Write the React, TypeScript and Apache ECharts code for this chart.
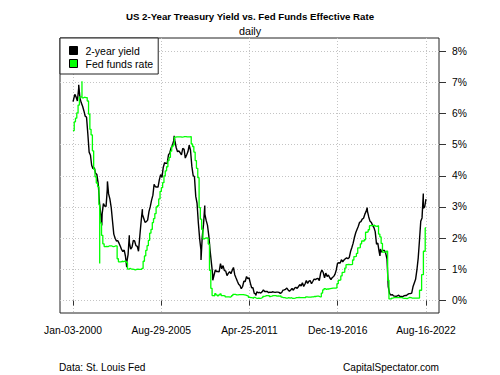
import React, { useEffect, useRef } from "react";
import * as echarts from "echarts";

const TITLE = "US 2-Year Treasury Yield vs. Fed Funds Effective Rate";
const SUBTITLE = "daily";
const SOURCE = "Data: St. Louis Fed";
const SITE = "CapitalSpectator.com";
const YIELD_NAME = "2-year yield";
const FED_NAME = "Fed funds rate";

// x-axis tick dates (labels) and y-axis tick values (percent)
const X_TICKS = ["2000-01-03", "2005-08-29", "2011-04-25", "2016-12-19", "2022-08-16"];
const Y_TICKS = [0, 1, 2, 3, 4, 5, 6, 7, 8];

// 2-year Treasury yield, monthly readings (mid-month), %
const YIELD_2000S = [
  6.44, 6.61, 6.53, 6.40, 6.81, 6.48, 6.34, 6.23, 6.08, 5.91, 5.88, 5.35,
  4.76, 4.66, 4.34, 4.23, 4.26, 4.08, 4.04, 3.76, 3.12, 2.73, 2.78, 3.11,
  3.03, 3.02, 3.56, 3.42, 3.26, 2.99, 2.56, 2.13, 2.00, 1.91, 1.92, 1.84,
  1.74, 1.63, 1.57, 1.62, 1.42, 1.23, 1.47, 1.86, 1.65, 1.71, 1.93, 1.91,
  1.76, 1.74, 1.58, 2.07, 2.53, 2.76, 2.64, 2.51, 2.53, 2.58, 2.85, 3.01,
  3.22, 3.38, 3.73, 3.65, 3.64, 3.64, 3.87, 4.04, 3.95, 4.27, 4.42, 4.40,
  4.40, 4.67, 4.73, 4.89, 4.97, 5.12, 5.12, 4.90, 4.77, 4.80, 4.74, 4.67,
  4.88, 4.85, 4.57, 4.67, 4.77, 4.98, 4.82, 4.31, 4.01, 3.97, 3.34, 3.12,
  2.48, 1.97, 1.62, 2.05, 2.45, 2.77, 2.57, 2.42, 2.08, 1.61, 1.21, 0.82,
  0.81, 0.98, 0.93, 0.93, 0.92, 1.18, 1.02, 1.12, 0.96, 0.95, 0.80, 0.87,
];
const YIELD_2010S = [
  0.93, 0.86, 0.96, 1.06, 0.83, 0.72, 0.62, 0.52, 0.48, 0.38, 0.45, 0.62,
  0.61, 0.77, 0.70, 0.73, 0.56, 0.41, 0.41, 0.23, 0.21, 0.28, 0.25, 0.26,
  0.24, 0.28, 0.34, 0.29, 0.29, 0.29, 0.25, 0.27, 0.26, 0.28, 0.27, 0.26,
  0.27, 0.27, 0.26, 0.23, 0.25, 0.33, 0.34, 0.36, 0.40, 0.34, 0.30, 0.34,
  0.39, 0.33, 0.40, 0.42, 0.39, 0.45, 0.51, 0.47, 0.57, 0.45, 0.53, 0.64,
  0.55, 0.62, 0.64, 0.54, 0.61, 0.69, 0.67, 0.70, 0.71, 0.64, 0.88, 0.98,
  0.90, 0.73, 0.88, 0.77, 0.82, 0.73, 0.67, 0.74, 0.77, 0.84, 0.98, 1.20,
  1.21, 1.20, 1.31, 1.24, 1.30, 1.34, 1.37, 1.34, 1.38, 1.57, 1.70, 1.84,
  2.03, 2.18, 2.28, 2.38, 2.51, 2.53, 2.61, 2.64, 2.77, 2.86, 2.86, 2.68,
  2.54, 2.50, 2.41, 2.34, 2.21, 1.81, 1.84, 1.57, 1.65, 1.55, 1.61, 1.61,
];
const YIELD_2020S = [
  1.52, 1.33, 0.45, 0.23, 0.17, 0.19, 0.15, 0.14, 0.13, 0.15, 0.17, 0.13,
  0.13, 0.12, 0.15, 0.16, 0.16, 0.20, 0.22, 0.22, 0.24, 0.44, 0.56, 0.68,
  0.98, 1.37, 1.91, 2.54, 2.65, 2.96, 3.00,
];
// daily highs / lows visible in the picture, plus first and last readings
const YIELD_EXTREMES: [string, number][] = [
  ["2000-01-03", 6.38], ["2000-05-16", 6.92], ["2001-11-07", 2.41], ["2002-03-19", 3.82],
  ["2003-06-13", 1.07], ["2003-08-13", 2.09], ["2004-06-14", 2.93], ["2006-06-28", 5.28],
  ["2008-03-17", 1.30], ["2008-06-13", 3.05], ["2008-12-17", 0.65], ["2011-09-19", 0.16],
  ["2018-11-08", 2.98], ["2019-09-03", 1.43], ["2022-06-14", 3.43], ["2022-08-16", 3.25],
];

// Fed funds effective rate, monthly levels (start of month), %
const FED_2000S = [
  5.45, 5.73, 5.85, 6.02, 6.27, 6.53, 6.54, 6.50, 6.52, 6.51, 6.51, 6.40,
  5.98, 5.49, 5.31, 4.80, 4.21, 3.97, 3.77, 3.65, 3.07, 2.49, 2.09, 1.82,
  1.73, 1.74, 1.73, 1.75, 1.75, 1.75, 1.73, 1.74, 1.75, 1.75, 1.34, 1.24,
  1.24, 1.26, 1.25, 1.26, 1.26, 1.22, 1.01, 1.03, 1.01, 1.01, 1.00, 0.98,
  1.00, 1.01, 1.00, 1.00, 1.00, 1.03, 1.26, 1.43, 1.61, 1.76, 1.93, 2.16,
  2.28, 2.50, 2.63, 2.79, 3.00, 3.04, 3.26, 3.50, 3.62, 3.78, 4.00, 4.16,
  4.29, 4.49, 4.59, 4.79, 4.94, 4.99, 5.24, 5.25, 5.25, 5.25, 5.25, 5.24,
  5.25, 5.26, 5.26, 5.25, 5.25, 5.25, 5.26, 5.02, 4.94, 4.76, 4.49, 4.24,
  3.94, 2.98, 2.61, 2.28, 1.98, 2.00, 2.01, 2.00, 1.81, 0.97, 0.39, 0.16,
  0.15, 0.22, 0.18, 0.15, 0.18, 0.21, 0.16, 0.16, 0.15, 0.12, 0.12, 0.12,
];
const FED_2010S = [
  0.11, 0.13, 0.16, 0.20, 0.20, 0.18, 0.18, 0.19, 0.19, 0.19, 0.19, 0.18,
  0.17, 0.16, 0.14, 0.10, 0.09, 0.09, 0.07, 0.10, 0.08, 0.07, 0.08, 0.07,
  0.08, 0.10, 0.13, 0.14, 0.16, 0.16, 0.16, 0.13, 0.14, 0.16, 0.16, 0.16,
  0.14, 0.15, 0.14, 0.15, 0.11, 0.09, 0.09, 0.08, 0.08, 0.09, 0.08, 0.09,
  0.07, 0.07, 0.08, 0.09, 0.09, 0.10, 0.09, 0.09, 0.09, 0.09, 0.09, 0.12,
  0.11, 0.11, 0.11, 0.12, 0.12, 0.13, 0.13, 0.14, 0.14, 0.12, 0.12, 0.24,
  0.34, 0.38, 0.36, 0.37, 0.37, 0.38, 0.39, 0.40, 0.40, 0.40, 0.41, 0.54,
  0.65, 0.66, 0.79, 0.90, 0.91, 1.04, 1.15, 1.16, 1.15, 1.15, 1.16, 1.30,
  1.41, 1.42, 1.51, 1.69, 1.70, 1.82, 1.91, 1.91, 1.95, 2.19, 2.20, 2.27,
  2.40, 2.40, 2.41, 2.42, 2.39, 2.38, 2.40, 2.13, 2.04, 1.83, 1.55, 1.55,
];
const FED_2020S = [
  1.55, 1.58, 0.65, 0.05, 0.05, 0.08, 0.09, 0.10, 0.09, 0.09, 0.09, 0.09,
  0.09, 0.08, 0.07, 0.07, 0.06, 0.08, 0.10, 0.09, 0.08, 0.08, 0.08, 0.08,
];
// daily spikes and 2022 policy steps
const FED_CHANGES: [string, number][] = [
  ["2000-07-31", 7.03], ["2001-09-19", 1.19], ["2001-09-20", 3.0],
  ["2022-01-01", 0.08], ["2022-03-17", 0.33], ["2022-05-05", 0.83],
  ["2022-06-16", 1.58], ["2022-07-28", 2.33], ["2022-08-16", 2.33],
];

const DAY = 86400000;
const ts = (s: string) => Date.parse(s + "T00:00:00Z");
const MONTHS = ["Jan", "Feb", "Mar", "Apr", "May", "Jun", "Jul", "Aug", "Sep", "Oct", "Nov", "Dec"];
const fmtDate = (v: number) => {
  const d = new Date(v);
  return `${MONTHS[d.getUTCMonth()]}-${String(d.getUTCDate()).padStart(2, "0")}-${d.getUTCFullYear()}`;
};

function monthly(startYear: number, values: number[], day: number): [number, number][] {
  return values.map((v, i) => [Date.UTC(startYear + Math.floor(i / 12), i % 12, day), v]);
}
const byTime = (a: [number, number], b: [number, number]) => a[0] - b[0];

export default function App() {
  const ref = useRef<HTMLDivElement>(null);
  useEffect(() => {
    if (!ref.current) return;
    const chart = echarts.init(ref.current, undefined, { renderer: "svg" });

    const yieldData = [
      ...monthly(2000, YIELD_2000S, 15),
      ...monthly(2010, YIELD_2010S, 15),
      ...monthly(2020, YIELD_2020S, 15),
      ...YIELD_EXTREMES.map(([d, v]) => [ts(d), v] as [number, number]),
    ].sort(byTime);
    const fedData = [
      ...monthly(2000, FED_2000S, 1),
      ...monthly(2010, FED_2010S, 1),
      ...monthly(2020, FED_2020S, 1),
      ...FED_CHANGES.map(([d, v]) => [ts(d), v] as [number, number]),
    ].sort(byTime);

    const xTicks = X_TICKS.map(ts);
    const pad = 304 * DAY;
    const font = "'Liberation Sans', Arial, Helvetica, sans-serif";

    chart.setOption({
      animation: false,
      backgroundColor: "#ffffff",
      textStyle: { fontFamily: font },
      title: [
        {
          text: TITLE,
          subtext: SUBTITLE,
          left: "center",
          top: 11,
          padding: 0,
          itemGap: 4.5,
          textStyle: { fontSize: 9.7, fontWeight: "bold", color: "#000", fontFamily: font },
          subtextStyle: { fontSize: 10.8, color: "#000", fontFamily: font },
        },
        {
          text: SOURCE,
          left: 59,
          top: 362,
          padding: 0,
          textStyle: { fontSize: 10.1, fontWeight: "normal", color: "#000", fontFamily: font },
        },
        {
          text: SITE,
          right: 61,
          top: 362,
          padding: 0,
          textStyle: { fontSize: 10.1, fontWeight: "normal", color: "#000", fontFamily: font },
        },
      ],
      legend: {
        orient: "vertical",
        left: 60,
        top: 38,
        padding: [7, 5, 5, 9],
        itemGap: 2,
        itemWidth: 8,
        itemHeight: 8,
        icon: "rect",
        backgroundColor: "#ffffff",
        borderColor: "#222",
        borderWidth: 1,
        borderRadius: 0,
        itemStyle: { borderColor: "#000", borderWidth: 1 },
        textStyle: { fontSize: 10.5, color: "#000", fontFamily: font, padding: [0, 0, 0, 3] },
        data: [YIELD_NAME, FED_NAME],
      },
      grid: {
        left: 60,
        right: 61,
        top: 38,
        bottom: 62,
        show: true,
        borderColor: "#222",
        borderWidth: 1,
        backgroundColor: "transparent",
      },
      xAxis: {
        type: "value",
        min: xTicks[0] - pad,
        max: xTicks[xTicks.length - 1] + pad,
        axisLine: { show: false },
        axisTick: { show: true, length: 5, customValues: xTicks, lineStyle: { color: "#333" } },
        axisLabel: {
          customValues: xTicks,
          formatter: (v: number) => fmtDate(v),
          margin: 12,
          fontSize: 10.3,
          color: "#000",
          fontFamily: font,
        },
        splitLine: { show: true, lineStyle: { type: [1, 2], color: "#c4c4c4", width: 1 } },
      },
      yAxis: {
        type: "value",
        position: "right",
        min: -0.4,
        max: 8.42,
        axisLine: { show: false },
        axisTick: { show: true, length: 7, customValues: Y_TICKS, lineStyle: { color: "#333" } },
        axisLabel: {
          customValues: Y_TICKS,
          formatter: (v: number) => `${v}%`,
          margin: 13,
          fontSize: 10.3,
          color: "#000",
          fontFamily: font,
        },
        splitLine: { show: true, lineStyle: { type: [1, 2], color: "#c4c4c4", width: 1 } },
      },
      series: [
        {
          name: YIELD_NAME,
          type: "line",
          data: yieldData,
          showSymbol: false,
          color: "#000000",
          lineStyle: { width: 1.4, color: "#000000" },
        },
        {
          name: FED_NAME,
          type: "line",
          step: "end",
          data: fedData,
          showSymbol: false,
          color: "#00ff00",
          lineStyle: { width: 1.3, color: "#00ff00" },
        },
      ],
    });
    return () => chart.dispose();
  }, []);
  return <div ref={ref} style={{ width: 500, height: 375, position: "absolute", left: 0, top: 0 }} />;
}
